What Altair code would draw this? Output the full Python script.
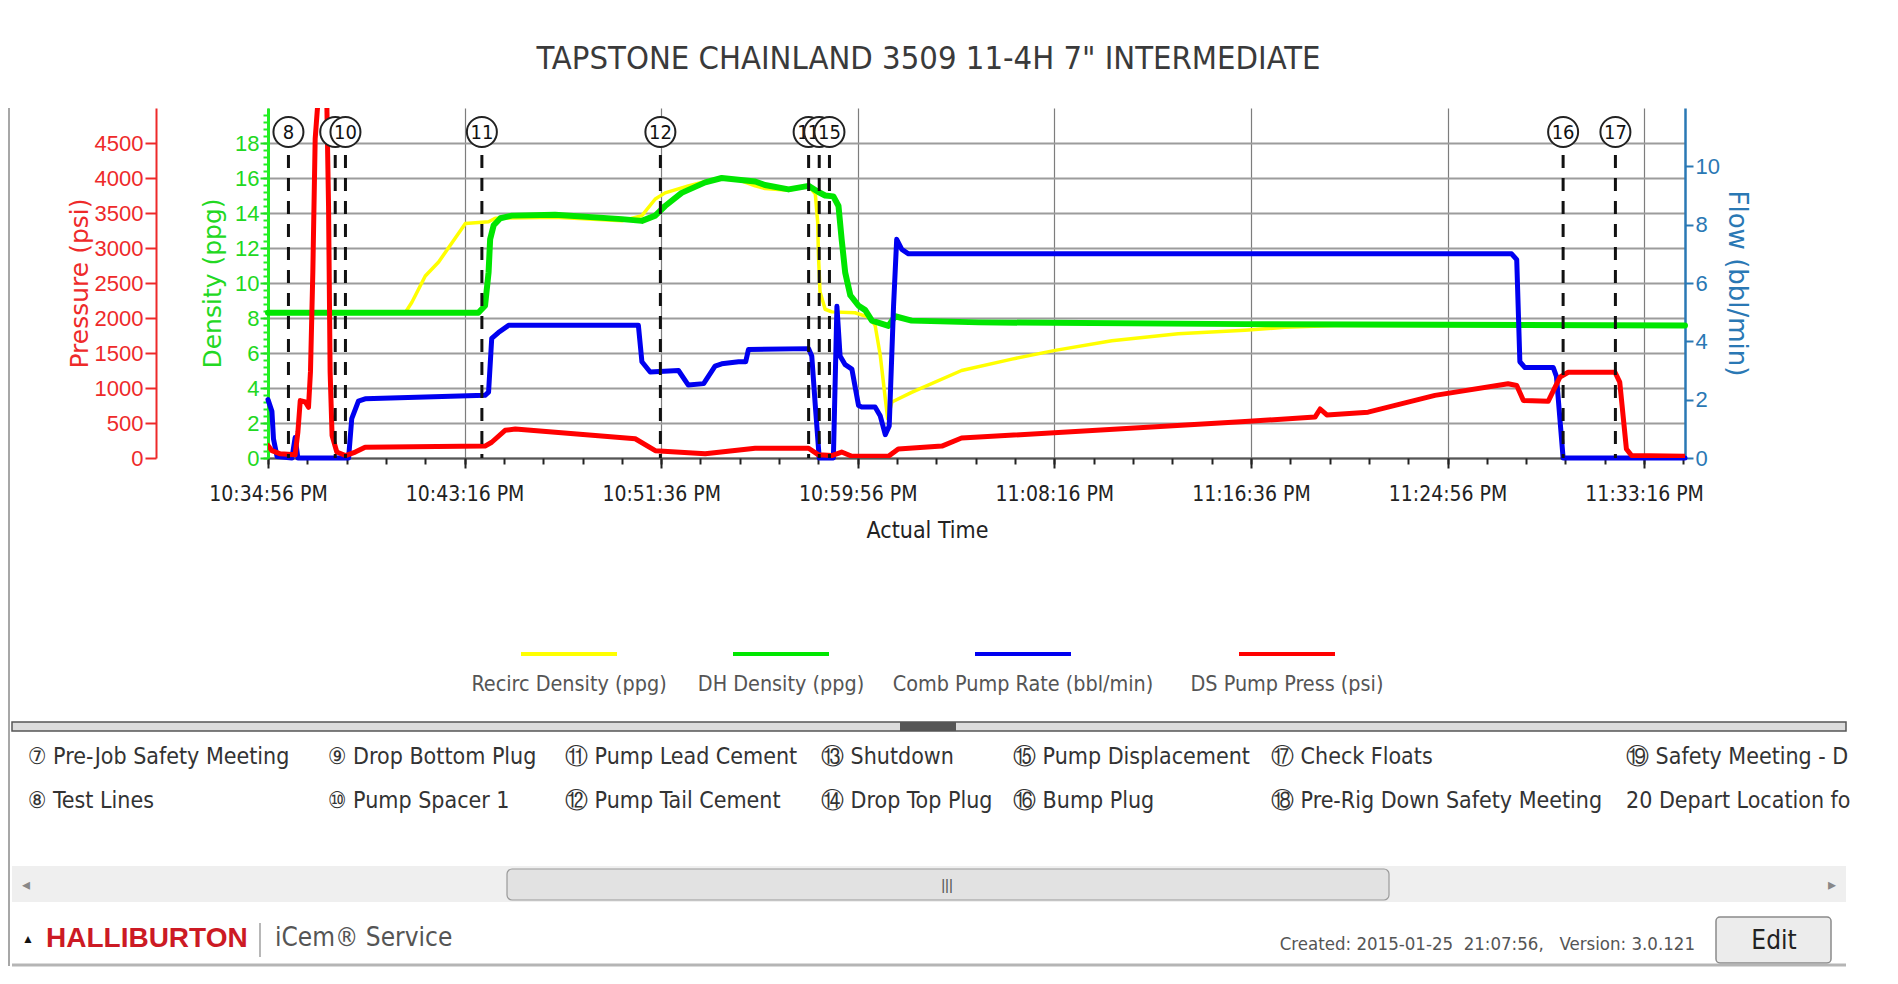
import altair as alt
import pandas as pd

# ---------------- data ----------------
DAY = "2015-01-24"
title_text = 'TAPSTONE CHAINLAND 3509 11-4H 7" INTERMEDIATE'

series_names = ["Recirc Density (ppg)", "DH Density (ppg)",
                "Comb Pump Rate (bbl/min)", "DS Pump Press (psi)"]
series_colors = ["#ffff00", "#00e600", "#0000f0", "#ff0000"]

recirc_time = ["22:34:56", "22:40:45", "22:41:02", "22:41:36", "22:42:10", "22:42:44", "22:43:18",
               "22:44:17", "22:44:34", "22:47:06", "22:49:56", "22:50:47", "22:51:21", "22:51:46",
               "22:52:45", "22:53:53", "22:54:53", "22:55:35", "22:56:00", "22:57:00", "22:57:51",
               "22:58:08", "22:58:14", "22:58:16", "22:58:20", "22:58:33", "22:58:50", "22:59:49",
               "23:00:23", "23:00:40", "23:00:53", "23:01:06", "23:01:12", "23:01:23", "23:02:13",
               "23:04:20", "23:06:28", "23:08:18", "23:10:42", "23:13:31", "23:16:21", "23:18:03",
               "23:20:10", "23:35:00"]
recirc_ppg = [8.3, 8.3, 8.9, 10.4, 11.2, 12.3, 13.4, 13.5, 13.7, 13.75, 13.55, 13.85, 14.8, 15.15,
              15.55, 15.95, 15.9, 15.55, 15.4, 15.3, 15.55, 15.1, 13.5, 11.6, 9.5, 8.5, 8.35, 8.3,
              8.05, 7.6, 5.9, 3.4, 2.25, 3.2, 3.75, 5.0, 5.65, 6.15, 6.7, 7.1, 7.3, 7.47, 7.57, 7.57]

dh_time = ["22:34:56", "22:43:51", "22:44:08", "22:44:17", "22:44:21", "22:44:30", "22:44:47",
           "22:45:16", "22:47:06", "22:49:56", "22:50:47", "22:51:21", "22:51:46", "22:52:28",
           "22:53:28", "22:54:10", "22:55:35", "22:56:00", "22:57:00", "22:57:51", "22:58:16",
           "22:58:33", "22:58:54", "22:59:07", "22:59:15", "22:59:24", "22:59:37", "22:59:58",
           "23:00:15", "23:00:32", "23:01:14", "23:01:31", "23:02:13", "23:05:03", "23:16:21",
           "23:35:00"]
dh_ppg = [8.3, 8.3, 8.7, 10.6, 12.5, 13.3, 13.7, 13.85, 13.9, 13.65, 13.55, 13.85, 14.4, 15.15,
          15.75, 16.0, 15.8, 15.6, 15.35, 15.55, 15.2, 15.0, 14.95, 14.4, 12.5, 10.6, 9.3, 8.7,
          8.45, 7.85, 7.55, 8.1, 7.85, 7.75, 7.65, 7.57]

rate_time = ["22:34:56", "22:35:06", "22:35:10", "22:35:19", "22:35:57", "22:36:05", "22:36:12",
             "22:38:21", "22:38:29", "22:38:46", "22:39:03", "22:44:08", "22:44:17", "22:44:25",
             "22:44:42", "22:45:08", "22:50:38", "22:50:47", "22:51:08", "22:52:20", "22:52:45",
             "22:53:24", "22:53:53", "22:54:10", "22:54:53", "22:55:11", "22:55:18", "22:57:51",
             "22:57:59", "22:58:08", "22:58:18", "22:58:54", "22:59:03", "22:59:11", "22:59:24",
             "22:59:41", "22:59:58", "23:00:06", "23:00:40", "23:00:53", "23:01:06", "23:01:16",
             "23:01:27", "23:01:35", "23:01:48", "23:02:05", "23:27:39", "23:27:52", "23:28:00",
             "23:28:13", "23:29:25", "23:29:33", "23:29:50", "23:35:00"]
rate_bpm = [2.0, 1.6, 0.65, 0.05, 0.0, 0.7, 0.0, 0.0, 1.35, 1.95, 2.03, 2.15, 2.26, 4.1, 4.3,
            4.55, 4.55, 3.3, 2.95, 3.0, 2.5, 2.55, 3.15, 3.23, 3.3, 3.3, 3.72, 3.75, 3.5, 1.8,
            0.0, 0.0, 5.2, 3.5, 3.2, 3.05, 1.8, 1.75, 1.75, 1.45, 0.8, 1.1, 5.2, 7.5, 7.15, 7.0,
            7.0, 6.8, 3.3, 3.1, 3.1, 2.8, 0.0, 0.0]

press_time = ["22:34:56", "22:35:06", "22:35:27", "22:36:05", "22:36:12", "22:36:18", "22:36:31",
              "22:36:39", "22:36:44", "22:36:50", "22:36:56", "22:37:01", "22:37:13", "22:37:24",
              "22:37:26", "22:37:30", "22:37:34", "22:37:39", "22:37:51", "22:38:13", "22:38:38",
              "22:39:03", "22:44:08", "22:44:25", "22:44:59", "22:45:25", "22:50:30", "22:51:21",
              "22:53:28", "22:55:35", "22:57:51", "22:58:16", "22:58:50", "22:59:15", "22:59:41",
              "23:01:14", "23:01:39", "23:03:30", "23:04:20", "23:16:21", "23:19:19", "23:19:32",
              "23:19:49", "23:21:34", "23:24:24", "23:27:30", "23:27:52", "23:28:09", "23:29:12",
              "23:29:42", "23:30:03", "23:32:02", "23:32:14", "23:32:31", "23:32:44", "23:35:00"]
press_psi = [180, 105, 60, 45, 370, 820, 800, 725, 1230, 2650, 4560, 4940, 5800, 5800, 4940,
             3600, 1230, 320, 85, 35, 85, 155, 170, 225, 395, 415, 275, 105, 60, 140, 140, 45,
             35, 85, 25, 25, 130, 170, 285, 520, 585, 700, 615, 655, 895, 1060, 1035, 820, 810,
             1155, 1225, 1225, 1085, 130, 35, 25]

event_num = [8, 9, 10, 11, 12, 13, 14, 15, 16, 17]
event_time = ["22:35:48", "22:37:47", "22:38:13", "22:44:00", "22:51:34", "22:57:51",
              "22:58:18", "22:58:44", "23:29:50", "23:32:03"]

x_start, x_end = "22:34:56", "23:35:00"
x_tick_times = ["22:34:56", "22:43:16", "22:51:36", "22:59:56", "23:08:16", "23:16:36",
                "23:24:56", "23:33:16"]
density_ticks = [0, 2, 4, 6, 8, 10, 12, 14, 16, 18]
pressure_ticks = [0, 500, 1000, 1500, 2000, 2500, 3000, 3500, 4000, 4500]
flow_ticks = [0, 2, 4, 6, 8, 10]

stage_rows = [
    ["⑦ Pre-Job Safety Meeting", "⑨ Drop Bottom Plug", "⑪ Pump Lead Cement", "⑬ Shutdown",
     "⑮ Pump Displacement", "⑰ Check Floats", "⑲ Safety Meeting - D"],
    ["⑧ Test Lines", "⑩ Pump Spacer 1", "⑫ Pump Tail Cement", "⑭ Drop Top Plug",
     "⑯ Bump Plug", "⑱ Pre-Rig Down Safety Meeting", "20 Depart Location fo"],
]
footer_brand = "HALLIBURTON"
footer_product = "iCem® Service"
footer_info = "Created: 2015-01-25\u00a0\u00a021:07:56,\u00a0\u00a0\u00a0Version: 3.0.121"

# ---------------- helpers ----------------
NARROW = "DejaVu Sans Condensed, sans-serif"
SANS = "Liberation Sans, Arial, sans-serif"
WIDE = "DejaVu Sans, Verdana, sans-serif"


def stamp(t):
    return f"{DAY}T{t}"


def dt(t):
    h, m, s = (int(v) for v in t.split(":"))
    return alt.DateTime(year=2015, month=1, date=24, hours=h, minutes=m, seconds=s)


def frame(times, values, name):
    return pd.DataFrame({"time": [stamp(t) for t in times], "value": values, "series": name})


def secs(t):
    h, m, s = (int(v) for v in t.split(":"))
    return h * 3600 + m * 60 + s


def clock(n):
    return f"{n // 3600:02d}:{(n % 3600) // 60:02d}:{n % 60:02d}"


minor_times = [clock(s) for s in range(secs(x_start), secs(x_end) + 1, 100)]
density_minor = [round(i * 0.4, 1) for i in range(50)]

df_recirc = frame(recirc_time, recirc_ppg, series_names[0])
df_dh = frame(dh_time, dh_ppg, series_names[1])
df_rate = frame(rate_time, rate_bpm, series_names[2])
df_press = frame(press_time, press_psi, series_names[3])
df_events = pd.DataFrame({"time": [stamp(t) for t in event_time], "num": event_num,
                          "label": [str(n) for n in event_num]})
one = pd.DataFrame({"k": [0]})

W, H = 1417, 350
xscale = alt.Scale(domain=[dt(x_start), dt(x_end)], nice=False)

GREEN_TXT = "#22d822"
RED_TXT = "#ee2a2a"
BLUE_TXT = "#2a78b4"

color = alt.Color("series:N", scale=alt.Scale(domain=series_names, range=series_colors),
                  legend=None)

x_main_axis = alt.Axis(
    orient="bottom", values=[dt(t) for t in x_tick_times], format="%-I:%M:%S %p",
    labelFont=NARROW, labelFontSize=21, labelColor="#222222", labelPadding=15,
    labelFlush=False, labelOverlap=False, tickSize=10, tickWidth=2, tickColor="#222222",
    domainColor="#555555", domainWidth=2, grid=True, gridColor="#7d7d7d", gridWidth=1.2,
    title="Actual Time", titleFont=NARROW, titleFontSize=23, titleFontWeight="normal",
    titleColor="#222222", titlePadding=15, titleX=659,
)
x_minor_axis = alt.Axis(
    orient="bottom", values=[dt(t) for t in minor_times], labels=False, grid=False,
    domain=False, tickSize=6, tickWidth=2, tickColor="#222222", title=None,
)
density_axis = alt.Axis(
    orient="left", offset=0, values=density_ticks, title="Density (ppg)", titleFont=WIDE,
    titleFontSize=25, titleFontWeight="normal", titleColor=GREEN_TXT, titlePadding=9,
    labelFont=SANS, labelFontSize=22, labelColor=GREEN_TXT, labelPadding=1, tickSize=8,
    tickWidth=2, tickColor=GREEN_TXT, domainColor="#22ee22", domainWidth=3, grid=True,
    gridColor="#9c9c9c", gridWidth=1.8,
)
density_minor_axis = alt.Axis(
    orient="left", offset=0, values=density_minor, labels=False, grid=False, domain=False,
    tickSize=5, tickWidth=2, tickColor="#22ee22", title=None,
)
pressure_axis = alt.Axis(
    orient="left", offset=112, values=pressure_ticks, format="d", title="Pressure (psi)",
    titleFont=WIDE, titleFontSize=25, titleFontWeight="normal", titleColor=RED_TXT,
    titlePadding=2, labelFont=SANS, labelFontSize=22, labelColor=RED_TXT, labelPadding=2,
    tickSize=11, tickWidth=2, tickColor=RED_TXT, domainColor=RED_TXT, domainWidth=2, grid=False,
)
flow_axis = alt.Axis(
    orient="right", offset=0, values=flow_ticks, title="Flow (bbl/min)", titleFont=WIDE,
    titleFontSize=26, titleFontWeight="normal", titleColor=BLUE_TXT, titlePadding=4,
    labelFont=SANS, labelFontSize=22, labelColor=BLUE_TXT, labelPadding=2, tickSize=8,
    tickWidth=2, tickColor=BLUE_TXT, domainColor=BLUE_TXT, domainWidth=2.5, grid=False,
)


def line(df, width, y_domain, y_axis, x_axis=None, clip=False):
    return alt.Chart(df).mark_line(strokeWidth=width, strokeJoin="round", strokeCap="round",
                                   clip=clip).encode(
        x=alt.X("time:T", scale=xscale, axis=x_axis),
        y=alt.Y("value:Q", scale=alt.Scale(domain=y_domain, nice=False), axis=y_axis),
        color=color,
    )


yellow = line(df_recirc, 3.5, [0, 20], density_minor_axis)
green = line(df_dh, 6, [0, 20], density_axis, x_axis=x_main_axis)
blue = line(df_rate, 5, [0, 12], flow_axis)
red = line(df_press, 5, [0, 5000], pressure_axis, clip=True)

rules = alt.Chart(df_events).mark_rule(strokeDash=[13, 10], strokeWidth=3, color="#111111").encode(
    x=alt.X("time:T", scale=xscale, axis=x_minor_axis),
    y=alt.value(47), y2=alt.value(H),
)

event_layers = []
for n in event_num:
    base = alt.Chart(df_events).transform_filter(alt.datum.num == n)
    event_layers.append(base.mark_circle(size=900, fill="white", stroke="#222222",
                                         strokeWidth=2, opacity=1).encode(
        x=alt.X("time:T", scale=xscale, axis=None), y=alt.value(24)))
    event_layers.append(base.mark_text(font=NARROW, fontSize=20, color="#111111",
                                       baseline="middle", align="center").encode(
        x=alt.X("time:T", scale=xscale, axis=None), y=alt.value(25), text="label:N"))


# ---------------- legend and page decorations around the chart ----------------
def ui_text(txt, x, y, size, color="#333333", font=NARROW, align="left", weight="normal"):
    return alt.Chart(one).mark_text(text=txt, font=font, fontSize=size, color=color, align=align,
                                    baseline="middle", fontWeight=weight).encode(
        x=alt.value(x), y=alt.value(y))


def ui_rect(x1, x2, y1, y2, fill, stroke="#999999", sw=0, radius=0):
    return alt.Chart(one).mark_rect(fill=fill, stroke=stroke, strokeWidth=sw,
                                    cornerRadius=radius).encode(
        x=alt.value(x1), x2=alt.value(x2), y=alt.value(y1), y2=alt.value(y2))


def ui_rule(x1, x2, y1, y2, color, width):
    return alt.Chart(one).mark_rule(color=color, strokeWidth=width).encode(
        x=alt.value(x1), x2=alt.value(x2), y=alt.value(y1), y2=alt.value(y2))


ui = []
legend_cx = [301, 513, 755, 1019]
for name, col, cx in zip(series_names, series_colors, legend_cx):
    ui.append(ui_rule(cx - 48, cx + 48, 546, 546, col, 4))
    ui.append(ui_text(name, cx, 577, 21.4, "#555555", align="center"))

ui += [
    ui_rule(-259, -259, 0, 858, "#8a8a8a", 1.5),
    ui_rect(-256, 1578, 614, 623, "#dcdcdc", "#555555", 1.5),
    ui_rect(632, 688, 614, 623, "#555555"),
    ui_rect(-256, 1578, 758, 794, "#efefef"),
    ui_rect(239, 1121, 761, 792, "#e2e2e2", "#9a9a9a", 1.2, 5),
    ui_text("|||", 679, 777, 15, "#555555", SANS, "center"),
    ui_text("◂", -246, 777, 16, "#888888", SANS, "left"),
    ui_text("▸", 1560, 777, 16, "#888888", SANS, "left"),
    ui_text("▲", -246, 831, 12, "#111111", SANS),
    ui_text(footer_brand, -222, 831, 28, "#cc1a24", SANS, weight="bold"),
    ui_rule(-8, -8, 815, 849, "#888888", 1.2),
    ui_text(footer_product, 7, 830, 26, "#555555"),
    ui_text(footer_info, 1427, 836, 18.5, "#555555", align="right"),
    ui_rect(1448, 1563, 809, 855, "#ececec", "#8a8a8a", 1.5, 4),
    ui_text("Edit", 1506, 833, 26, "#222222", align="center"),
    ui_rule(-256, 1578, 857, 857, "#b5b5b5", 3),
]
col_x = [-240, 60, 297, 553, 745, 1003, 1358]
row_y = [649, 693]
for r, row in enumerate(stage_rows):
    for c, txt in enumerate(row):
        ui.append(ui_text(txt, col_x[c], row_y[r], 23, "#333333"))

chart = alt.layer(yellow, green, blue, red, rules, *event_layers, *ui).resolve_scale(
    y="independent"
).resolve_axis(
    x="independent", y="independent"
).properties(
    width=W, height=H,
    padding={"left": 260, "top": 100, "right": 173, "bottom": 510},
    autosize=alt.AutoSizeParams(type="none"),
    title=alt.TitleParams(text=title_text, font=NARROW, fontSize=32.5, fontWeight="normal",
                          color="#3a3a3a", anchor="middle", frame="group", dx=-48, offset=32),
).configure_view(stroke="transparent")

chart.save("out.html", embed_options={"renderer": "svg", "actions": False})
